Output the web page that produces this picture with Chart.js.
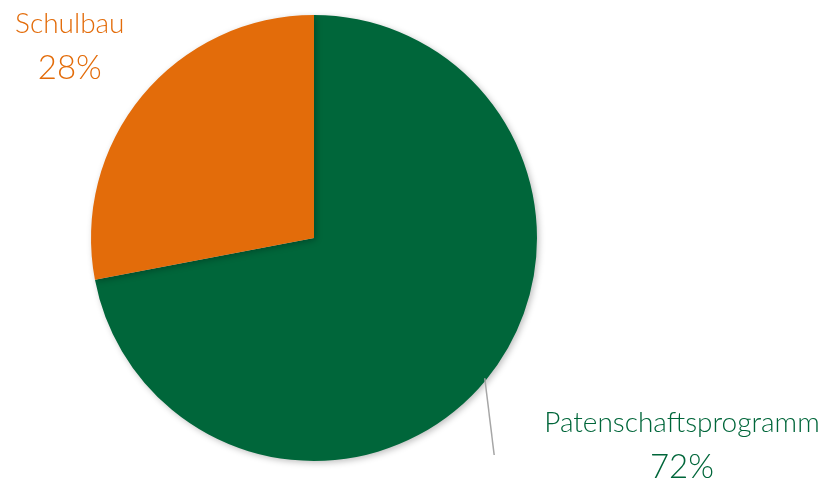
<!DOCTYPE html>
<html>
<head>
<meta charset="utf-8">
<script src="https://cdn.jsdelivr.net/npm/chart.js@4"></script>
<style>
  html, body { margin: 0; padding: 0; background: #ffffff; }
  #wrap { width: 834px; height: 491px; }
</style>
</head>
<body>
<div id="wrap"><canvas id="myChart" width="834" height="491"></canvas></div>
<script>
var labels = ['Patenschaftsprogramm', 'Schulbau'];
var values = [72, 28];
var colors = ['#00663a', '#e36c0a'];

// draws a soft shadow under the pie
var shadowPlugin = {
    id: 'pieShadow',
    beforeDatasetDraw: function(chart) {
        var ctx = chart.ctx;
        ctx.save();
        ctx.shadowColor = 'rgba(0,0,0,0.25)';
        ctx.shadowBlur = 6;
        ctx.shadowOffsetX = 2;
        ctx.shadowOffsetY = 2;
    },
    afterDatasetDraw: function(chart) {
        chart.ctx.restore();
    }
};

// outside labels with percentage, and the leader line for the big slice
var labelPlugin = {
    id: 'outLabels',
    afterDraw: function(chart) {
        var ctx = chart.ctx;
        var arcs = chart.getDatasetMeta(0).data;
        var total = values.reduce(function(a, b) { return a + b; }, 0);
        var cx = arcs[0].x, cy = arcs[0].y, r = arcs[0].outerRadius;

        // leader line from green slice edge
        var ang = -Math.PI / 2 + 129.4 * Math.PI / 180;
        ctx.save();
        ctx.strokeStyle = '#a6a6a6';
        ctx.lineWidth = 1.5;
        ctx.beginPath();
        ctx.moveTo(cx + Math.cos(ang) * (r - 2), cy + Math.sin(ang) * (r - 2));
        ctx.lineTo(cx + r * 0.808, cy + r * 0.973);
        ctx.stroke();
        ctx.restore();

        var pos = [
            { x: cx + r * 1.65, y: cy + r * 0.83 },
            { x: cx - r * 1.095, y: cy - r * 0.96 }
        ];
        ctx.save();
        ctx.textAlign = 'center';
        ctx.textBaseline = 'middle';
        for (var i = 0; i < labels.length; i++) {
            ctx.fillStyle = colors[i];
            var pct = Math.round(values[i] / total * 100) + '%';
            ctx.font = '300 28px Lato';
            ctx.fillText(labels[i], pos[i].x, pos[i].y);
            ctx.font = '300 33px Lato';
            ctx.fillText(pct, pos[i].x, pos[i].y + 44);
        }
        ctx.restore();
    }
};

var ctx = document.getElementById('myChart').getContext('2d');
var chart = new Chart(ctx, {
    type: 'pie',
    data: {
        labels: labels,
        datasets: [{
            data: values,
            backgroundColor: colors,
            borderWidth: 0
        }]
    },
    options: {
        responsive: false,
        animation: false,
        layout: {
            padding: { left: 91, right: 297, top: 15, bottom: 30 }
        },
        plugins: {
            legend: { display: false },
            tooltip: { enabled: false }
        }
    },
    plugins: [shadowPlugin, labelPlugin]
});
</script>
</body>
</html>
